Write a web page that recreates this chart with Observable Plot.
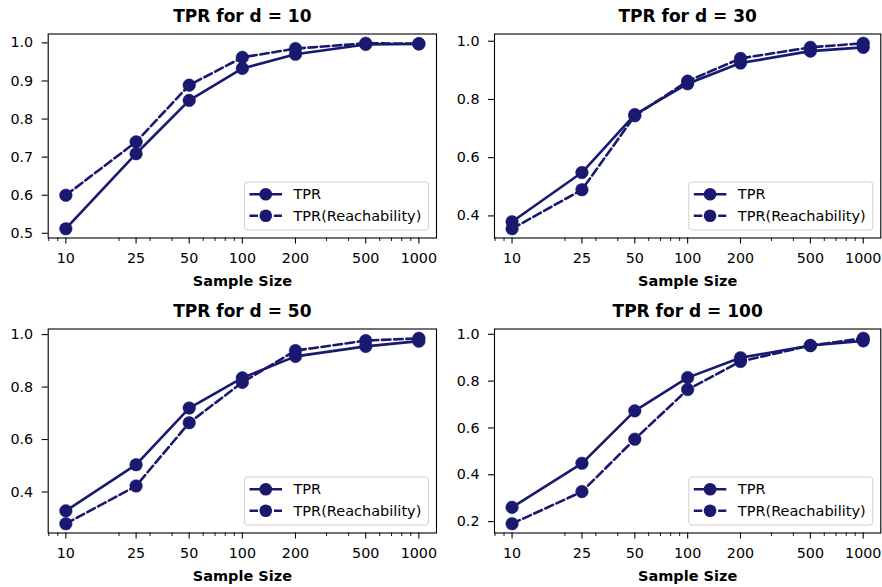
<!DOCTYPE html>
<html><head><meta charset="utf-8">
<script src="https://cdn.jsdelivr.net/npm/d3@7"></script>
<script src="https://cdn.jsdelivr.net/npm/@observablehq/plot@0.6"></script>
<style>
body{margin:0;background:#fff;}
#chart{position:relative;width:882px;height:587px;font-family:"DejaVu Sans",sans-serif;background:#fff;}
.panel{position:absolute;}
</style></head><body><div id="chart"></div>
<script>
// ---- data ----
const sampleSizes = [10, 25, 50, 100, 200, 500, 1000];
const xTickLabels = ["10", "25", "50", "100", "200", "500", "1000"];
const minorTicks = [8, 9, 20, 30, 40, 60, 70, 80, 90, 300, 400, 600, 700, 800, 900];
const dims = [10, 30, 50, 100];
const seriesNames = ["TPR", "TPR(Reachability)"];

const tprD10   = [0.512, 0.709, 0.849, 0.933, 0.970, 0.996, 0.997];
const reachD10 = [0.600, 0.740, 0.889, 0.962, 0.985, 0.999, 0.998];
const tprD30   = [0.380, 0.549, 0.748, 0.854, 0.925, 0.966, 0.979];
const reachD30 = [0.356, 0.490, 0.744, 0.863, 0.941, 0.979, 0.993];
const tprD50   = [0.328, 0.504, 0.720, 0.835, 0.917, 0.955, 0.975];
const reachD50 = [0.279, 0.423, 0.664, 0.818, 0.939, 0.977, 0.986];
const tprD100   = [0.261, 0.449, 0.673, 0.815, 0.900, 0.952, 0.972];
const reachD100 = [0.191, 0.328, 0.552, 0.764, 0.884, 0.952, 0.983];

const yTicksD10 = [0.5, 0.6, 0.7, 0.8, 0.9, 1.0];
const yTicksD30 = [0.4, 0.6, 0.8, 1.0];
const yTicksD50 = [0.4, 0.6, 0.8, 1.0];
const yTicksD100 = [0.2, 0.4, 0.6, 0.8, 1.0];

const panels = [
  {d: dims[0], tpr: tprD10, reach: reachD10, yTicks: yTicksD10, left: 0, top: 0, ml: 47.7, mr: 5},
  {d: dims[1], tpr: tprD30, reach: reachD30, yTicks: yTicksD30, left: 441, top: 0, ml: 53, mr: 1.7},
  {d: dims[2], tpr: tprD50, reach: reachD50, yTicks: yTicksD50, left: 0, top: 295, ml: 47.7, mr: 5},
  {d: dims[3], tpr: tprD100, reach: reachD100, yTicks: yTicksD100, left: 441, top: 295, ml: 53, mr: 1.7}
];

const color = "#191970";
const lineW = 2.6;
const dash = "8.5,3.7";
const chart = document.getElementById("chart");

function legendMark(index, scales, values, dimensions) {
  const g = d3.create("svg:g");
  const w = 184, h = 48;
  const right = dimensions.width - dimensions.marginRight - 7.5;
  const bottom = dimensions.height - dimensions.marginBottom - 7.5;
  const x0 = right - w, y0 = bottom - h;
  g.append("rect").attr("x", x0).attr("y", y0).attr("width", w).attr("height", h)
    .attr("rx", 3).attr("fill", "white").attr("fill-opacity", 0.8)
    .attr("stroke", "#d0d0d0").attr("stroke-width", 1);
  seriesNames.forEach((name, i) => {
    const yy = y0 + 12.3 + i * 21.5;
    g.append("line").attr("x1", x0 + 5).attr("x2", x0 + 37.5).attr("y1", yy).attr("y2", yy)
      .attr("stroke", color).attr("stroke-width", lineW)
      .attr("stroke-dasharray", i === 1 ? dash : null);
    g.append("circle").attr("cx", x0 + 21.25).attr("cy", yy).attr("r", 6.3).attr("fill", color);
    g.append("text").attr("x", x0 + 49).attr("y", yy).attr("dy", "0.35em")
      .attr("text-anchor", "start")
      .attr("fill", "black").attr("font-size", 14.5).text(name);
  });
  return g.node();
}

panels.forEach(p => {
  const all = p.tpr.concat(p.reach);
  const lo = d3.min(all), hi = d3.max(all), pad = (hi - lo) * 0.05;
  const rows = (vals, s) => sampleSizes.map((n, i) => ({n, v: vals[i], s}));
  const tprRows = rows(p.tpr, seriesNames[0]);
  const reachRows = rows(p.reach, seriesNames[1]);
  const plot = Plot.plot({
    width: 441, height: 292,
    marginLeft: p.ml, marginRight: p.mr, marginTop: 33.5, marginBottom: 54.5,
    style: {fontFamily: "DejaVu Sans, sans-serif", fontSize: "14px", color: "black", background: "white", overflow: "visible"},
    x: {type: "log", domain: [Math.pow(10, 0.9), Math.pow(10, 3.1)]},
    y: {domain: [lo - pad, hi + pad]},
    marks: [
      Plot.axisX({ticks: sampleSizes, tickSize: 6, text: null, label: null, strokeWidth: 1.1}),
      Plot.text(sampleSizes.map((n, i) => ({n, label: xTickLabels[i]})), {x: "n", text: "label", frameAnchor: "bottom", lineAnchor: "top", dy: 15, fontSize: 14.3, fill: "black"}),
      Plot.axisX({ticks: minorTicks, tickSize: 3.5, text: null, label: null, strokeWidth: 0.9}),
      Plot.axisY({ticks: p.yTicks, tickFormat: ".1f", tickSize: 6, tickPadding: 9, label: null, strokeWidth: 1.1, fontSize: 14.3}),
      Plot.line(tprRows, {x: "n", y: "v", stroke: color, strokeWidth: lineW}),
      Plot.dot(tprRows, {x: "n", y: "v", r: 6.3, fill: color, stroke: color, strokeWidth: 0.5}),
      Plot.line(reachRows, {x: "n", y: "v", stroke: color, strokeWidth: lineW, strokeDasharray: dash}),
      Plot.dot(reachRows, {x: "n", y: "v", r: 6.3, fill: color, stroke: color, strokeWidth: 0.5}),
      Plot.frame({stroke: "black", strokeWidth: 1.1}),
      Plot.text([`TPR for d = ${p.d}`], {frameAnchor: "top", dy: -17.5, lineAnchor: "middle", fontWeight: "bold", fontSize: 17, fill: "black"}),
      Plot.text(["Sample Size"], {frameAnchor: "bottom", dy: 43.5, lineAnchor: "middle", fontWeight: "bold", fontSize: 14.5, fill: "black"}),
      legendMark
    ]
  });
  const wrap = document.createElement("div");
  wrap.className = "panel";
  wrap.style.left = p.left + "px";
  wrap.style.top = p.top + "px";
  wrap.appendChild(plot);
  chart.appendChild(wrap);
});
</script>
</body></html>
